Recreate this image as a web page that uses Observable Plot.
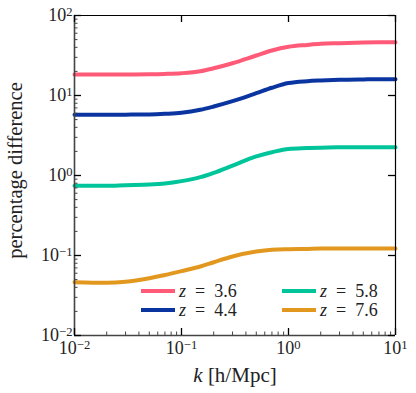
<!DOCTYPE html>
<html><head><meta charset="utf-8">
<script src="https://cdn.jsdelivr.net/npm/d3@7"></script>
<script src="https://cdn.jsdelivr.net/npm/@observablehq/plot@0.6"></script>
<style>
body{margin:0;background:#fff}
#chart svg, #chart svg text, #chart svg tspan { font-family: "Liberation Serif", "DejaVu Serif", "Times New Roman", serif !important; }
</style>
</head><body><div id="chart"></div>
<script>
const kValues = [0.01,0.02,0.03,0.05,0.07,0.1,0.15,0.2,0.3,0.5,0.7,1,1.5,2,3,5,7,10];
const z36 = [18.3,18.3,18.3,18.4,18.6,19.0,20.1,21.9,25.3,31.6,36.5,40.6,42.9,44.3,45.1,46.0,46.3,46.4];
const z44 = [5.74,5.74,5.76,5.8,5.9,6.08,6.63,7.29,8.5,10.7,12.5,14.3,15.1,15.4,15.7,15.9,16.0,16.0];
const z58 = [0.743,0.745,0.757,0.77,0.794,0.85,0.953,1.08,1.33,1.73,1.95,2.15,2.2,2.23,2.25,2.26,2.26,2.26];
const z76 = [0.0464,0.0456,0.0469,0.052,0.057,0.0637,0.0729,0.0824,0.0972,0.112,0.118,0.120,0.121,0.122,0.122,0.122,0.122,0.122];
const seriesNames = ["z = 3.6","z = 4.4","z = 5.8","z = 7.6"];
const seriesColors = ["#ff5a77","#0a35a0","#00c49a","#e2981f"];
const xMajorTicks = [0.01,0.1,1,10];
const yMajorTicks = [0.01,0.1,1,10,100];
const xTickLabels = ["10^−2","10^−1","10^0","10^1"];
const yTickLabels = ["10^−2","10^−1","10^0","10^1","10^2"];
const xLabel = "k [h/Mpc]";
const yLabel = "percentage difference";

const W = 416, H = 393, mL = 74, mR = 21, mT = 15, mB = 58;
const fw = W - mL - mR, fh = H - mT - mB;
const minorMult = [2,3,4,5,6,7,8,9];
const xMinor = xMajorTicks.slice(0,-1).flatMap(d => minorMult.map(m => d*m));
const yMinor = yMajorTicks.slice(0,-1).flatMap(d => minorMult.map(m => d*m));

const allSeries = [z36, z44, z58, z76];
const rows = allSeries.flatMap((vals, i) => vals.map((v, j) => ({k: kValues[j], v, s: seriesNames[i]})));

const font = "Liberation Serif, DejaVu Serif, serif";
const xFmt = d => xTickLabels[xMajorTicks.indexOf(d)] ?? "";
const yFmt = d => yTickLabels[yMajorTicks.indexOf(d)] ?? "";

const plot = Plot.plot({
  width: W, height: H,
  marginLeft: mL, marginRight: mR, marginTop: mT, marginBottom: mB,
  style: {fontFamily: font, fontSize: "18px", background: "#fff", color: "#222"},
  x: {type: "log", domain: [0.01, 10]},
  y: {type: "log", domain: [0.01, 100]},
  color: {domain: seriesNames, range: seriesColors},
  marks: [
    Plot.line(rows, {x: "k", y: "v", stroke: "s", strokeWidth: 4, curve: "monotone-x"}),
    Plot.ruleX([0.01], {stroke: "#444", strokeWidth: 1.6}),
    Plot.ruleY([0.01], {stroke: "#444", strokeWidth: 1.6}),
    Plot.ruleX([10], {stroke: "#000", strokeWidth: 1.2}),
    Plot.ruleY([100], {stroke: "#000", strokeWidth: 1.2}),
    Plot.tickY(yMajorTicks, {y: d => d, insetRight: fw - 7, stroke: "#000", strokeWidth: 1.3}),
    Plot.tickY(yMajorTicks, {y: d => d, insetLeft: fw - 7, stroke: "#000", strokeWidth: 1.3}),
    Plot.tickY(yMinor, {y: d => d, insetRight: fw - 3.5, stroke: "#444", strokeWidth: 1}),
    Plot.tickX(xMajorTicks, {x: d => d, insetTop: fh - 7, stroke: "#000", strokeWidth: 1.3}),
    Plot.tickX(xMajorTicks, {x: d => d, insetBottom: fh - 7, stroke: "#000", strokeWidth: 1.3}),
    Plot.tickX(xMinor, {x: d => d, insetTop: fh - 3.5, stroke: "#444", strokeWidth: 1}),
    Plot.axisX({ticks: xMajorTicks, tickSize: 0, tickPadding: 6, tickFormat: xFmt, label: null, fontSize: 18}),
    Plot.axisY({ticks: yMajorTicks, tickSize: 0, tickPadding: 2, tickFormat: yFmt, label: null, fontSize: 18}),
    Plot.text([yLabel], {frameAnchor: "left", textAnchor: "middle", lineAnchor: "middle", rotate: -90, dx: -59, dy: -5, fontSize: 20.5, fill: "#222"}),
    Plot.text([xLabel], {frameAnchor: "bottom", textAnchor: "middle", lineAnchor: "middle", dy: 40, fontSize: 21, fill: "#222"})
  ]
});

d3.select(plot).selectAll("text").each(function() {
  const t = this.textContent;
  const m = /^10\^(.*)$/.exec(t);
  if (m) {
    const sel = d3.select(this);
    sel.text(null);
    sel.append("tspan").text("10");
    sel.append("tspan").attr("dy", "-0.45em").attr("font-size", "0.7em").text(m[1]);
  } else if (t === xLabel) {
    const sel = d3.select(this);
    sel.text(null);
    sel.append("tspan").attr("font-style", "italic").text("k");
    sel.append("tspan").text(" [h/Mpc]");
  }
});

const legX = [141, 282], legY = [291, 310], swLen = 34, txtGap = 4;
const lg = d3.select(plot).append("g").attr("font-family", font).attr("font-size", 18)
  .attr("fill", "#222").attr("text-anchor", "start");
seriesNames.forEach((name, i) => {
  const cx = legX[Math.floor(i / 2)], cy = legY[i % 2];
  lg.append("line").attr("x1", cx).attr("x2", cx + swLen).attr("y1", cy).attr("y2", cy)
    .attr("stroke", seriesColors[i]).attr("stroke-width", 4);
  const t = lg.append("text").attr("x", cx + swLen + txtGap).attr("y", cy).attr("dy", "0.34em");
  const parts = name.split(" = ");
  t.append("tspan").attr("font-style", "italic").text(parts[0]);
  t.append("tspan").text("\u2002=\u2002" + parts[1]);
});

document.getElementById("chart").append(plot);
</script>
</body></html>
